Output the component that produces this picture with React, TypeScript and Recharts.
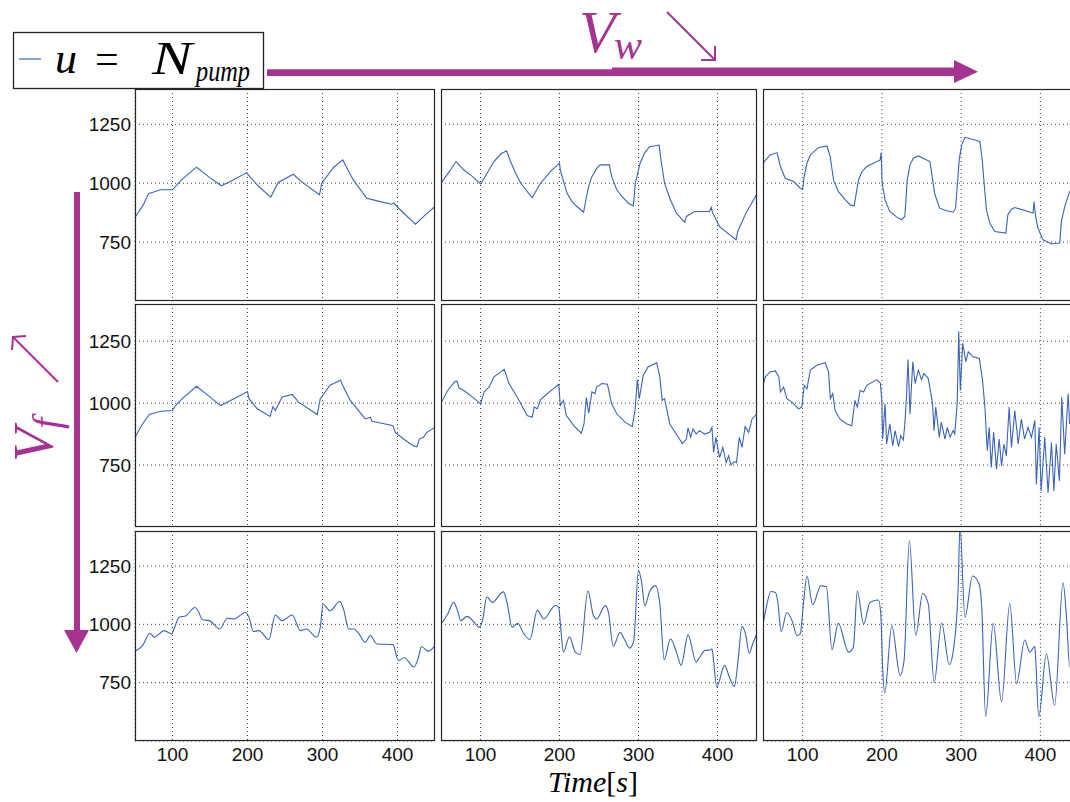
import React from "react";
import { LineChart, Line, XAxis, YAxis, CartesianGrid } from "recharts";

// ---- tick labels / domains ----
const X_TICKS = [100, 200, 300, 400];
const Y_TICKS = [750, 1000, 1250];
const X_DOMAIN = [50, 450];
const Y_DOMAIN = [500, 1400];

// ---- Row 1 (low Vf) ----
const T_R1C1 = [50,61,68,84,100,112,132,148,165,181,199,201,215,231,241,261,272,296,299,315,327,341,359,377,392,395,406,424,437,450];
const V_R1C1 = [855,908,955,972,972,1014,1068,1028,989,1014,1045,1035,986,941,1003,1038,1007,951,1000,1068,1099,1014,936,922,911,915,880,826,866,901];

const T_R1C2 = [50,60.5,69,79,90,100,107,117,125.6,133,138,144.5,151,159,165.5,176,188.5,200,201,209.5,215.8,222,230.5,232.6,236.8,241,247.3,251.5,263,266,272.5,279,287,293.5,296,302,308,314,326,329,333,339.6,348,358.5,360.6,371,390,392,394,402.6,423.5,425.6,436,450];
const V_R1C2 = [1000,1049,1092,1056,1028,997,1035,1092,1124,1138,1092,1042,1000,965,939,1000,1049,1085,1056,958,922,901,877,915,986,1028,1064,1078,1078,1028,972,944,915,904,1000,1085,1130,1155,1162,1085,1000,936,873,835,859,880,880,898,873,816,760,795,873,955];

const T_R1C3 = [50,59,67.7,72,78,88.7,97,100,102,105.5,109.7,120,130.6,134.8,139,145,153.7,160,165,168.4,170.5,174.7,181,197.8,199,200.4,204,210,218.8,225,229,232,235.5,239.7,246,260.7,264,267,273,281.7,290,293,297.6,300.6,304.8,323.7,326.6,329.7,332,336.2,342.5,356.4,359,363.5,367.7,390.8,392,394,397,403.4,414,424.4,426.5,430.7,437,450];
const V_R1C3 = [1085,1120,1130,1071,1021,1007,979,975,1028,1085,1120,1151,1158,1113,1014,965,930,908,904,972,1014,1049,1071,1099,1130,1000,929,880,856,845,859,1014,1078,1106,1116,1092,1014,951,894,883,877,894,1099,1162,1195,1177,1099,972,887,831,795,788,866,890,897,873,922,859,809,760,742,746,838,901,965,1020];

// ---- Row 2 (medium Vf) ----
const T_R2C1 = [50,60,69,84.5,100,104,113,132,149,164,182,200,202,213,230,234,237,246,259.5,268,293,297,310,324,328,337,357,363.6,366,379,394,397,408,421,426,429,434.5,439,450];
const V_R2C1 = [862,916,954,967,970,990,1018,1068,1027,990,1018,1047,1018,977,946,986,970,1024,1035,1004,954,1018,1072,1092,1065,1011,936,943,927,919,909,882,855,828,824,855,862,882,902];

const T_R2C2 = [50,58.5,67,70,73,79,90,100,104.6,111,117,130,136,146.6,159,165.5,168,172,176,182,199,201,205,208.7,218,227.6,231,234,237,241,245,247,253.6,260.7,266,272.5,283,292,295.6,298.5,301,306,312,323,327,330,333,339.6,355.6,360.6,362.7,366,369,373,377,383.7,390,393,395,398,402.6,406.7,411,414,417,421.5,424,427.7,431,435,439.5,443.7,450];
const V_R2C2 = [1000,1051,1085,1089,1061,1051,1024,997,1045,1065,1106,1136,1079,1024,950,943,984,977,1014,1031,1076,991,1011,950,909,879,916,1022,959,1045,1038,1065,1079,1076,997,957,923,905,970,1095,1018,1112,1146,1163,1106,1011,1018,916,837,855,900,862,896,875,889,875,882,902,801,862,780,821,760,787,751,764,760,862,821,905,882,936,957];

const T_R2C3 = [50,53,59,65.6,70,72,76,80,86.6,95,99,102,105.5,109.7,118,128.5,132.7,135,138,141,147,156,162,166,169,172.6,177,181,193.6,198,200,201,204,206,210,213.7,216.7,221,223.8,227,229,231,233,235.5,239,242,246,250,253,258.6,264,265.8,268,272.5,275,279.6,282.5,286,290,292,295,297,299,302,306,309,315,323,327,330,333,335.4,338,341,344.7,348,351,354,357,360.6,363.5,367.7,372,376,380,384.5,388.7,393,395,398.4,401,405.5,409.7,414,417,420,424,427,430.7,435,437,445,450];
const V_R2C3 = [1072,1106,1126,1130,1106,1045,1065,1018,1004,977,984,1072,1058,1133,1153,1163,1126,1018,1038,970,936,916,909,1011,984,1051,1045,1072,1095,1081,1008,855,997,835,916,828,889,824,869,851,916,1024,1176,957,1167,1079,1133,1095,1119,1099,997,889,984,862,923,855,902,862,889,875,997,1289,1051,1241,1167,1207,1187,1180,1092,984,808,902,740,882,733,855,747,835,787,984,821,970,835,936,855,902,862,930,672,902,645,862,638,841,645,835,686,1024,794,1038,916,1030,900];

// ---- Row 3 (high Vf) ----
const T_R3C1 = [50,60,70,75.6,89,98.7,102,109,118,130,134,140,149,163,173,182,197.5,202,207.7,215,228.5,237,246,259.5,270.6,278.6,292,297,300.7,310,323,328,335,341.5,348,357,363.6,372.5,394,401,409,422,428,432,441,450];
const V_R3C1 = [885,909,962,945,973,959,980,1030,1037,1072,1058,1020,1016,980,1026,1023,1051,1030,969,973,935,1040,1016,1040,973,980,945,987,1087,1058,1098,1065,980,980,962,923,952,916,913,845,857,817,859,905,885,909];

const T_R3C2 = [50,58.5,66,71,75,83,92,98,102.5,108,115,129,134,140,147,155,162.5,172,180,195,199,202,205,212.5,220,226,236,243,247,258,262,268,276.7,282,289,294,300,304,308,314.4,321.5,327,332.5,340.5,348,354,362.7,373,378,383.7,392,393,395,399,409,415,421.5,425.6,431,436,440,444.5,450];
const V_R3C2 = [1001,1044,1094,1058,1016,1034,1009,987,1016,1118,1094,1139,1087,987,1004,959,935,1061,1023,1082,1072,966,881,947,881,871,1143,1037,1023,1080,1051,905,966,937,898,930,1232,1179,1080,1143,1165,1087,848,937,881,824,955,838,862,888,891,895,845,732,824,774,734,831,990,952,876,916,963];

const T_R3C3 = [50,55,60,65.6,68.5,73,80,86.6,93,97,101,105.5,112.6,123,130,137,145,158,164,169,177,185,195.7,198.6,201,203.6,212.5,223,228,234.7,242.7,251.5,258.6,266,275.4,285,291,296.4,298.5,304.8,314.4,322.8,325.8,331,340.5,351,361.4,370,380.3,386.6,393,394,398,407.6,418,428.6,433,437,445,450];
const V_R3C3 = [999,1087,1141,1136,1101,969,1051,1016,952,959,1087,1207,1084,1165,1161,891,1004,881,902,1143,1001,1094,1104,1044,810,706,994,781,845,1359,952,1132,1087,750,1006,828,909,1172,1420,1030,1207,1172,1087,604,1004,668,1089,746,933,881,905,859,604,874,653,1179,1030,817,880,820];

const SERIES = [
  [[T_R1C1, V_R1C1], [T_R1C2, V_R1C2], [T_R1C3, V_R1C3]],
  [[T_R2C1, V_R2C1], [T_R2C2, V_R2C2], [T_R2C3, V_R2C3]],
  [[T_R3C1, V_R3C1], [T_R3C2, V_R3C2], [T_R3C3, V_R3C3]],
];

// ---- layout ----
const COL_X = [135, 441, 763];
const COL_W = [300, 316, 317];
const ROW_Y = [89, 304, 531];
const ROW_H = [212, 223, 210];
const Y_AXIS_W = 60;
const X_AXIS_H = 40;

const PURPLE = "#A43391";
const LINE_BLUE = "#3A63B9";
const MATH = "'Liberation Serif', 'Times New Roman', serif";
const SANS = "'Liberation Sans', Arial, sans-serif";

const mathStyle = (size: number, italic = true, fill = "#000") => ({
  fontFamily: MATH,
  fontStyle: italic ? "italic" : "normal",
  fontSize: size,
  fill,
});

function Panel({ row, col }: { row: number; col: number }) {
  const [ts, vs] = SERIES[row][col];
  const n = Math.min(ts.length, vs.length);
  const data = [];
  for (let i = 0; i < n; i++) data.push({ t: ts[i], v: vs[i] });
  const showY = col === 0;
  const showX = row === 2;
  const w = COL_W[col] + (showY ? Y_AXIS_W : 0);
  const h = ROW_H[row] + (showX ? X_AXIS_H : 0);
  const tickStyle = { fill: "#111", fontSize: 19, fontFamily: SANS };
  return (
    <div style={{ position: "absolute", left: COL_X[col] - (showY ? Y_AXIS_W : 0), top: ROW_Y[row], width: w, height: h }}>
      <LineChart width={w} height={h} data={data} margin={{ top: 0, right: 0, bottom: 0, left: 0 }}>
        <CartesianGrid stroke="#444" strokeDasharray="1 3" strokeWidth={1} />
        <XAxis
          dataKey="t"
          type="number"
          domain={X_DOMAIN}
          ticks={X_TICKS}
          interval={0}
          allowDataOverflow
          hide={!showX}
          height={X_AXIS_H}
          axisLine={false}
          tickLine={false}
          tickSize={5}
          tickMargin={2}
          tick={tickStyle}
        />
        <YAxis
          type="number"
          domain={Y_DOMAIN}
          ticks={Y_TICKS}
          interval={0}
          allowDataOverflow
          hide={!showY}
          width={Y_AXIS_W}
          axisLine={false}
          tickLine={false}
          tickSize={2}
          tickMargin={2}
          tick={tickStyle}
        />
        <Line
          dataKey="v"
          type={row === 2 ? "monotone" : "linear"}
          stroke={LINE_BLUE}
          strokeWidth={1.1}
          dot={false}
          isAnimationActive={false}
        />
      </LineChart>
    </div>
  );
}

function Overlay() {
  const frames = [];
  for (let r = 0; r < 3; r++)
    for (let c = 0; c < 3; c++)
      frames.push(
        <rect key={`f${r}${c}`} x={COL_X[c] + 0.5} y={ROW_Y[r] + 0.5} width={COL_W[c] - 1} height={ROW_H[r] - 1}
          fill="none" stroke="#262626" strokeWidth={1.2} />
      );
  return (
    <svg width={1070} height={802} style={{ position: "absolute", left: 0, top: 0, pointerEvents: "none" }}>
      {frames}
      {/* legend */}
      <rect x={13.5} y={32.5} width={250} height={56} fill="#fff" stroke="#222" strokeWidth={1.3} />
      <line x1={19} y1={59} x2={41} y2={59} stroke={LINE_BLUE} strokeWidth={1.2} />
      <text x={55} y={73} style={mathStyle(44)}>u</text>
      <text x={95} y={73} style={mathStyle(42, false)}>=</text>
      <text x={152} y={74} style={mathStyle(46)} textLength={40} lengthAdjust="spacingAndGlyphs">N</text>
      <text x={196} y={81} style={mathStyle(30)} textLength={54} lengthAdjust="spacingAndGlyphs">pump</text>

      {/* horizontal Vw arrow */}
      <rect x={267} y={69.3} width={346} height={6.7} fill={PURPLE} />
      <rect x={612} y={67.5} width={344} height={8.5} fill={PURPLE} />
      <polygon points="954,60 978,71.8 954,83" fill={PURPLE} />
      <text x={579} y={52} style={mathStyle(60, true, PURPLE)}>V</text>
      <text x={614} y={59} style={mathStyle(42, true, PURPLE)}>w</text>
      <line x1={667} y1={12} x2={715} y2={60} stroke={PURPLE} strokeWidth={2} />
      <polyline points="715,46 715,60 701,60" fill="none" stroke={PURPLE} strokeWidth={2} />

      {/* vertical Vf arrow */}
      <rect x={74} y={192} width={6} height={440} fill={PURPLE} />
      <polygon points="64,630 89,630 76.5,653" fill={PURPLE} />
      <g transform="translate(53,462) rotate(-90)">
        <text x={0} y={0} style={mathStyle(56, true, PURPLE)}>V</text>
        <text x={33} y={7} style={mathStyle(40, true, PURPLE)}>f</text>
      </g>
      <line x1={58} y1={382} x2={13} y2={337} stroke={PURPLE} strokeWidth={2} />
      <polyline points="26,336 13,337 12,350" fill="none" stroke={PURPLE} strokeWidth={2} />

      {/* x label */}
      <text x={548} y={792} style={mathStyle(30, false)}>
        <tspan fontStyle="italic">Time</tspan>
        <tspan>[</tspan>
        <tspan fontStyle="italic">s</tspan>
        <tspan>]</tspan>
      </text>
    </svg>
  );
}

export default function App() {
  const panels = [];
  for (let r = 0; r < 3; r++) for (let c = 0; c < 3; c++) panels.push(<Panel key={`${r}-${c}`} row={r} col={c} />);
  return (
    <div style={{ position: "absolute", left: 0, top: 0, width: 1070, height: 802, overflow: "hidden", background: "#fff" }}>
      {panels}
      <Overlay />
    </div>
  );
}
